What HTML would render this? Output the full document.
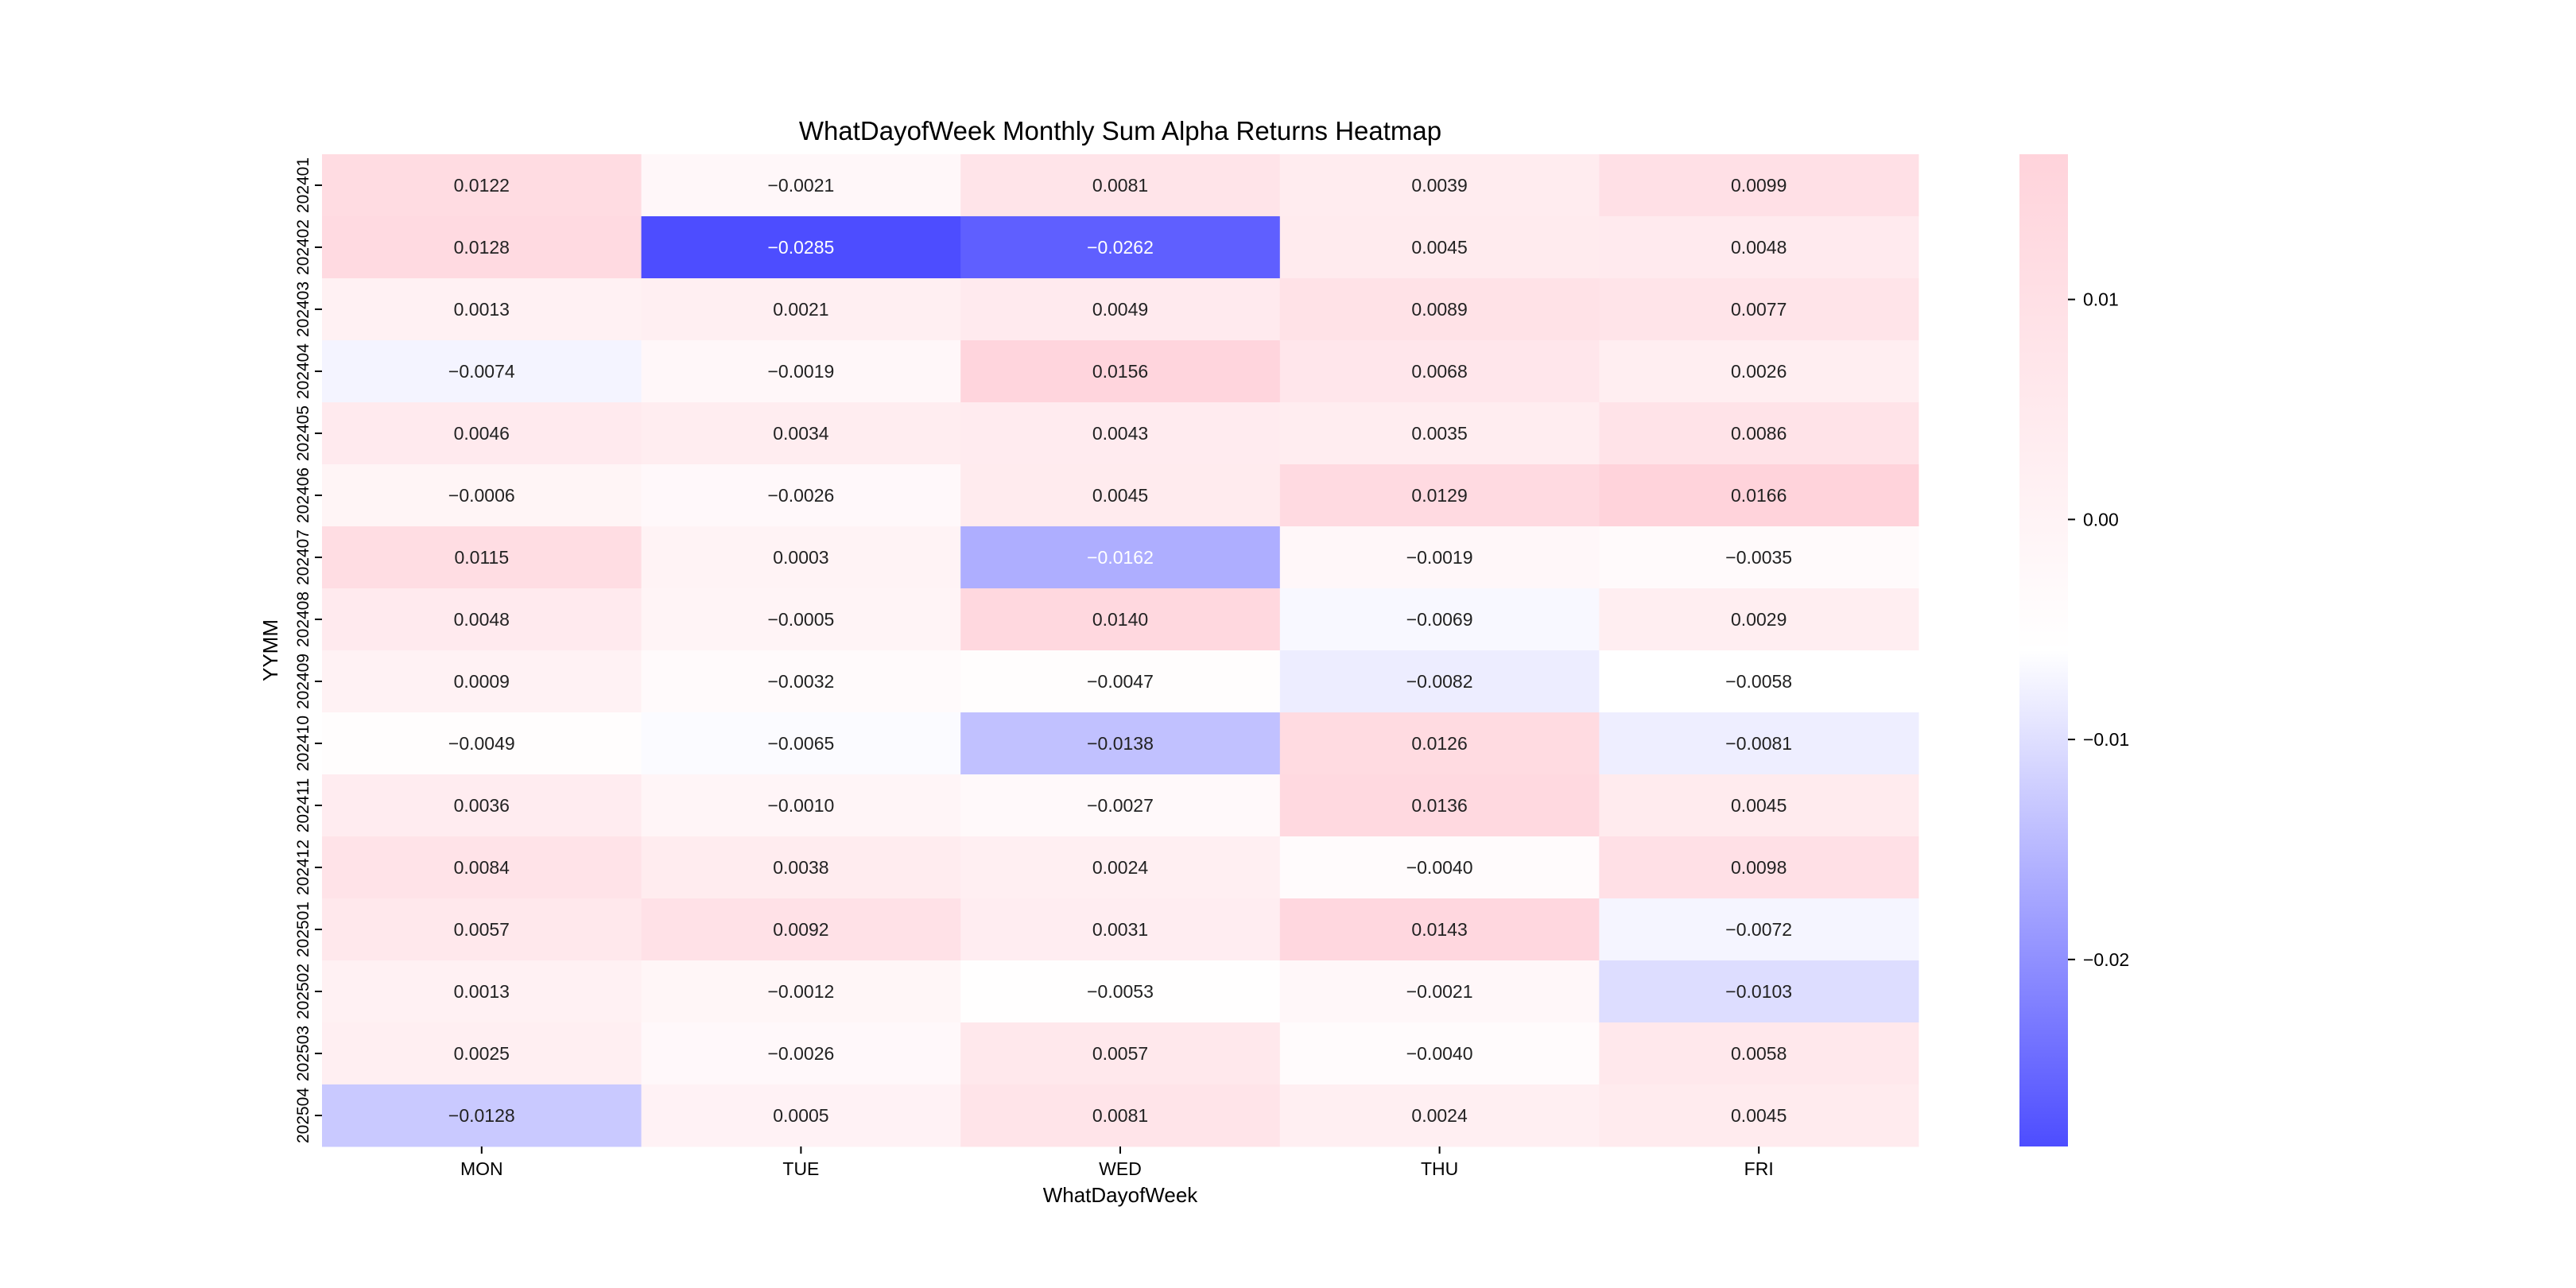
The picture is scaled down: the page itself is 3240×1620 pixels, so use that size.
<!DOCTYPE html>
<html><head><meta charset="utf-8"><style>
html,body{margin:0;padding:0;background:#fff;}
svg{display:block;font-family:"Liberation Sans","Noto Sans CJK SC",sans-serif;}
</style></head><body>
<svg id="chart" width="3240" height="1620" xmlns="http://www.w3.org/2000/svg">
<text x="1409" y="176" font-size="33" text-anchor="middle">WhatDayofWeek Monthly Sum Alpha Returns Heatmap</text>
<g id="cells"></g>
<g id="yticks"></g>
<g id="xticks"></g>
<text x="1409" y="1512" font-size="26" text-anchor="middle">WhatDayofWeek</text>
<text transform="translate(349,818) rotate(-90)" font-size="26" text-anchor="middle">YYMM</text>
<defs><linearGradient id="cbg" x1="0" y1="1" x2="0" y2="0">
<stop offset="0" stop-color="rgb(77,77,255)"/><stop offset="0.5" stop-color="#fff"/><stop offset="1" stop-color="rgb(255,211,219)"/>
</linearGradient></defs>
<rect x="2540" y="194" width="61" height="1248" fill="url(#cbg)"/>
<g id="cbticks"></g>
</svg>
<script>
const days = ["MON","TUE","WED","THU","FRI"];
const months = ["202401","202402","202403","202404","202405","202406","202407","202408","202409","202410","202411","202412","202501","202502","202503","202504"];
const mon = [0.0122,0.0128,0.0013,-0.0074,0.0046,-0.0006,0.0115,0.0048,0.0009,-0.0049,0.0036,0.0084,0.0057,0.0013,0.0025,-0.0128];
const tue = [-0.0021,-0.0285,0.0021,-0.0019,0.0034,-0.0026,0.0003,-0.0005,-0.0032,-0.0065,-0.0010,0.0038,0.0092,-0.0012,-0.0026,0.0005];
const wed = [0.0081,-0.0262,0.0049,0.0156,0.0043,0.0045,-0.0162,0.0140,-0.0047,-0.0138,-0.0027,0.0024,0.0031,-0.0053,0.0057,0.0081];
const thu = [0.0039,0.0045,0.0089,0.0068,0.0035,0.0129,-0.0019,-0.0069,-0.0082,0.0126,0.0136,-0.0040,0.0143,-0.0021,-0.0040,0.0024];
const fri = [0.0099,0.0048,0.0077,0.0026,0.0086,0.0166,-0.0035,0.0029,-0.0058,-0.0081,0.0045,0.0098,-0.0072,-0.0103,0.0058,0.0045];
const cbTicks = [0.01,0.00,-0.01,-0.02];
const cbLabels = ["0.01","0.00","\u22120.01","\u22120.02"];
const series = [mon,tue,wed,thu,fri];
const vmin = -0.0285, vmax = 0.0166;
const X0=405,X1=2413,Y0=194,Y1=1442;
const cw=(X1-X0)/days.length, ch=(Y1-Y0)/months.length;
const NS="http://www.w3.org/2000/svg";
function xPos(i){return X0+i*cw;}
function yPos(j){return Y0+j*ch;}
function cbY(v){return Y1-(v-vmin)/(vmax-vmin)*(Y1-Y0);}
function color(v){
  const t=(v-vmin)/(vmax-vmin);
  let r,g,b;
  if(t<0.5){const s=t/0.5;r=77+(255-77)*s;g=77+(255-77)*s;b=255;}
  else{const s=(t-0.5)/0.5;r=255;g=255+(211-255)*s;b=255+(219-255)*s;}
  return `rgb(${Math.round(r)},${Math.round(g)},${Math.round(b)})`;
}
function mk(tag,attrs){const e=document.createElementNS(NS,tag);for(const k in attrs)e.setAttribute(k,attrs[k]);return e;}
const cells=document.getElementById('cells');
series.forEach((arr,i)=>{arr.forEach((v,j)=>{
  const r=mk('rect',{x:xPos(i),y:yPos(j),width:cw+0.5,height:ch+0.5,fill:color(v)});
  
  
  cells.appendChild(r);
  const t=mk('text',{x:xPos(i)+cw/2,y:yPos(j)+ch/2+8,'font-size':23,'text-anchor':'middle',fill:(v<-0.015?'#fff':'#222')});
  t.textContent=(v<0?'\u2212':'')+Math.abs(v).toFixed(4);
  
  
  cells.appendChild(t);
});});
const yt=document.getElementById('yticks');
months.forEach((m,j)=>{
  const cy=yPos(j)+ch/2;
  const l=mk('line',{x1:X0-9,y1:cy,x2:X0,y2:cy,stroke:'#000','stroke-width':2});
  
  
  yt.appendChild(l);
  const t=mk('text',{transform:`translate(${X0-17},${cy}) rotate(-90)`,'font-size':21,'text-anchor':'middle'});
  t.textContent=m;
  
  
  yt.appendChild(t);
});
const xt=document.getElementById('xticks');
days.forEach((d,i)=>{
  const cx=xPos(i)+cw/2;
  const l=mk('line',{x1:cx,y1:Y1,x2:cx,y2:Y1+9,stroke:'#000','stroke-width':2});
  
  
  xt.appendChild(l);
  const t=mk('text',{x:cx,y:Y1+36,'font-size':23,'text-anchor':'middle'});
  t.textContent=d;
  
  
  xt.appendChild(t);
});
const cb=document.getElementById('cbticks');
cbTicks.forEach((v,k)=>{
  const y=cbY(v);
  const l=mk('line',{x1:2601,y1:y,x2:2610,y2:y,stroke:'#000','stroke-width':2});
  
  
  cb.appendChild(l);
  const t=mk('text',{x:2620,y:y+8,'font-size':23});
  t.textContent=cbLabels[k];
  
  
  cb.appendChild(t);
});
</script>
</body></html>
